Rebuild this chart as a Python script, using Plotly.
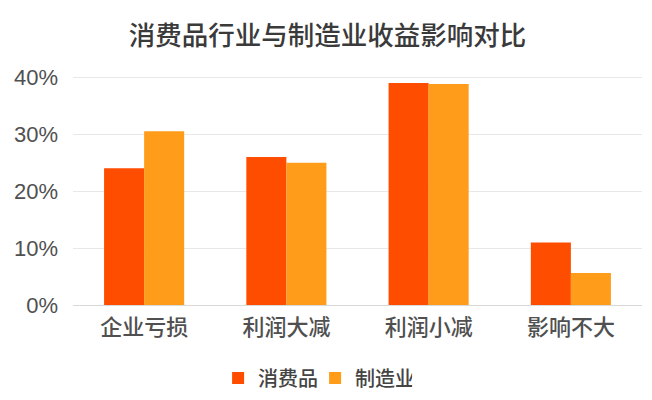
import plotly.graph_objects as go

categories = ["企业亏损", "利润大减", "利润小减", "影响不大"]
consumer = [24.0, 26.0, 39.0, 11.0]
manufacturing = [30.5, 25.0, 38.8, 5.6]
series_names = ["消费品", "制造业"]
tick_vals = [0, 10, 20, 30, 40]
tick_text = ["0%", "10%", "20%", "30%", "40%"]

FONT = "Noto Sans CJK SC"

fig = go.Figure()
fig.add_trace(go.Bar(x=categories, y=consumer, name=series_names[0],
                     marker=dict(color="#FF4D00", line=dict(width=0))))
fig.add_trace(go.Bar(x=categories, y=manufacturing, name=series_names[1],
                     marker=dict(color="#FF9C19", line=dict(width=0))))

fig.update_layout(
    width=652, height=400,
    margin=dict(l=65, r=18, t=67, b=103, autoexpand=False),
    paper_bgcolor="white", plot_bgcolor="white",
    barmode="group", bargap=0.437, bargroupgap=0,
    title=dict(text="消费品行业与制造业收益影响对比", xref="container", x=0.49,
               xanchor="center", yref="container", y=0.93, yanchor="middle",
               font=dict(family=FONT, size=26.5, color="#3a3a3a", weight=500)),
    font=dict(family=FONT, color="#555555"),
    showlegend=True,
    legend=dict(orientation="h", xref="container", x=0.471, xanchor="center",
                yref="container", y=0.075, yanchor="middle",
                font=dict(family=FONT, size=20, color="#444444", weight=500),
                itemwidth=30, entrywidth=52, traceorder="normal"),
    xaxis=dict(showgrid=False, showline=True, linecolor="#d9d9d9", linewidth=1,
               ticks="", ticklabelstandoff=3, automargin=False,
               tickfont=dict(family=FONT, size=22, color="#505050", weight=500)),
    yaxis=dict(range=[0, 40.4], tickvals=tick_vals, ticktext=tick_text,
               showgrid=True, gridcolor="#e8e8e8", gridwidth=1, zeroline=False,
               showline=False, ticks="", ticklabelstandoff=14, automargin=False,
               tickfont=dict(family="Liberation Sans", size=22, color="#505050")),
)

fig.write_html("out.html")
